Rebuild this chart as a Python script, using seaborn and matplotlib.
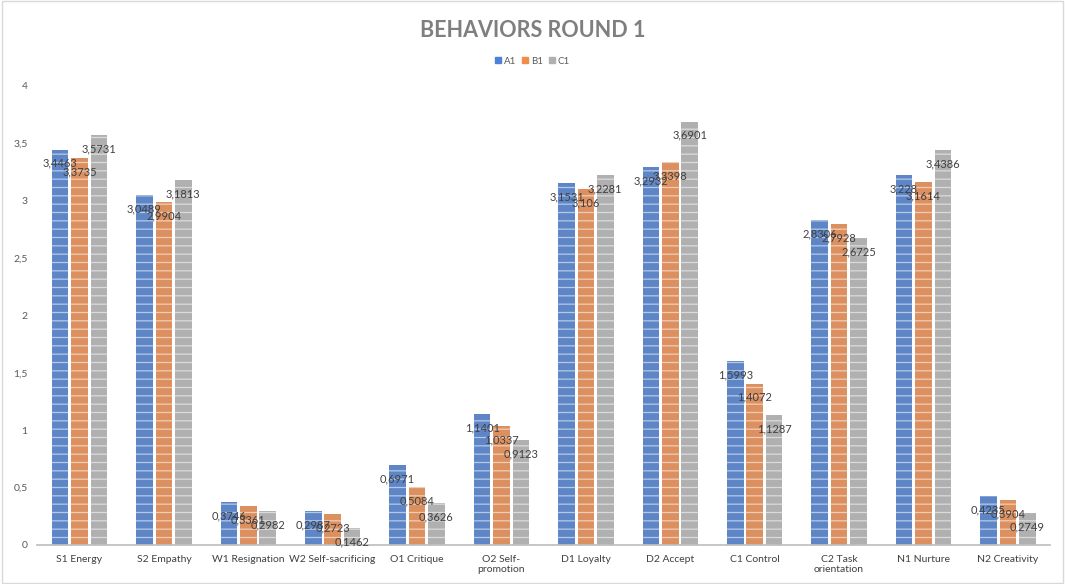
import pandas as pd
import matplotlib.pyplot as plt
import matplotlib.patches as mpatches
import seaborn as sns

# data
behaviors = ["S1 Energy", "S2 Empathy", "W1 Resignation", "W2 Self-sacrificing",
             "O1 Critique", "O2 Self-\npromotion", "D1 Loyalty", "D2 Accept",
             "C1 Control", "C2 Task\norientation", "N1 Nurture", "N2 Creativity"]
groups = ["A1", "B1", "C1"]
a1 = [3.4463, 3.0489, 0.3746, 0.2987, 0.6971, 1.1401, 3.1531, 3.2932, 1.5993, 2.8306, 3.228, 0.4235]
b1 = [3.3735, 2.9904, 0.3361, 0.2723, 0.5084, 1.0337, 3.106, 3.3398, 1.4072, 2.7928, 3.1614, 0.3904]
c1 = [3.5731, 3.1813, 0.2982, 0.1462, 0.3626, 0.9123, 3.2281, 3.6901, 1.1287, 2.6725, 3.4386, 0.2749]
colors = ["#4D82D8", "#F18C4A", "#B0B0B0"]


def fmt(v):
    return f"{v:.4f}".rstrip("0").rstrip(".").replace(".", ",")


sns.set_theme(style="white")
plt.rcParams["font.family"] = ["Lato", "DejaVu Sans"]
plt.rcParams["hatch.linewidth"] = 0.9

df = pd.DataFrame({
    "behavior": behaviors * 3,
    "group": [g for g in groups for _ in behaviors],
    "score": a1 + b1 + c1,
})

fig = plt.figure(figsize=(10.65, 5.84), dpi=100)
ax = fig.add_axes([0.035, 0.0668, 0.951, 0.786])
sns.barplot(data=df, x="behavior", y="score", hue="group", palette=colors,
            width=0.69, gap=0.14, ax=ax, legend=False, errorbar=None)

for cont in ax.containers:
    for bar in cont:
        bar.set_hatch("--")
        bar.set_edgecolor((1, 1, 1, 0.55))
        bar.set_linewidth(0)
        h = bar.get_height()
        ax.annotate(fmt(h), (bar.get_x() + bar.get_width() / 2, h),
                    xytext=(0, -10), textcoords="offset points",
                    ha="center", va="center", fontsize=8, color="#404040")

ax.set_ylim(0, 4)
ax.set_xlim(-0.5, 11.5)
ax.set_yticks([0, 0.5, 1, 1.5, 2, 2.5, 3, 3.5, 4])
ax.set_yticklabels(["0", "0,5", "1", "1,5", "2", "2,5", "3", "3,5", "4"])
ax.tick_params(axis="y", length=0, pad=7, labelsize=7.5, labelcolor="#595959")
ax.tick_params(axis="x", length=0, pad=7, labelsize=7.5, labelcolor="#404040")
ax.set_xlabel("")
ax.set_ylabel("")
for s in ["top", "right", "left"]:
    ax.spines[s].set_visible(False)
ax.spines["bottom"].set_color("#BFBFBF")

fig.text(0.5, 0.947, "BEHAVIORS ROUND 1", ha="center", va="center",
         fontsize=15.5, fontweight="bold", color="#7F7F7F")
handles = [mpatches.Patch(color=c, label=g) for c, g in zip(colors, groups)]
fig.legend(handles=handles, loc="center", bbox_to_anchor=(0.5, 0.895), ncol=3,
           frameon=False, fontsize=7, handlelength=0.6, handleheight=0.6,
           handletextpad=0.3, columnspacing=0.6, labelcolor="#595959")

fig.patches.append(mpatches.Rectangle((0.002, 0.002), 0.996, 0.996, transform=fig.transFigure,
                                      fill=False, edgecolor="#D9D9D9", linewidth=1))

fig.savefig("out.png", dpi=100)
